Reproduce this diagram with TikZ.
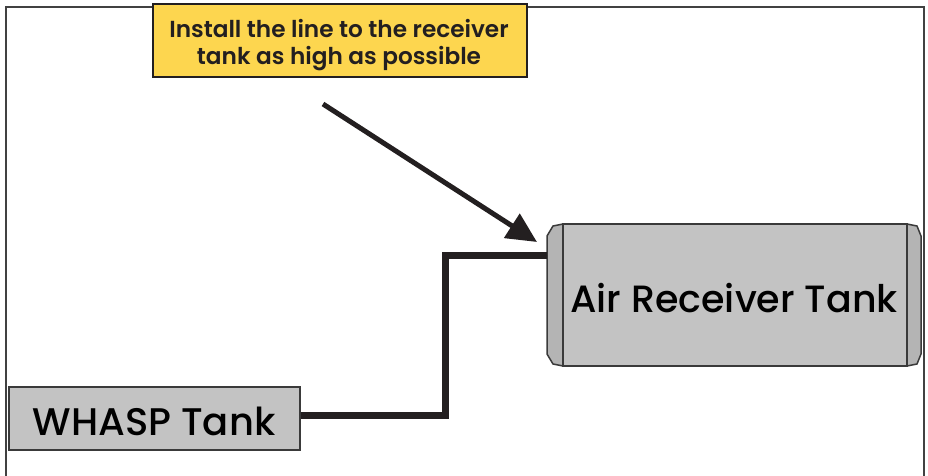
\documentclass[tikz,border=0pt]{standalone}
\usepackage{fontspec}
\setmainfont{Poppins}
\newfontfamily\notefont{Poppins SemiBold}
\newfontfamily\tankfont{Poppins Medium}
\usetikzlibrary{arrows.meta}
\definecolor{callout}{HTML}{FDD64F}
\definecolor{tankfill}{HTML}{C3C3C3}
\definecolor{capfill}{HTML}{B4B4B4}
\definecolor{edge}{HTML}{3A3A3A}
\definecolor{ink}{HTML}{231F20}
\begin{document}
\begin{tikzpicture}[x=1pt,y=-1pt,
  tankbox/.style={draw=edge,line width=1.5pt,fill=tankfill,inner sep=0pt,text=black},
  tanklabel/.style={font=\tankfont\fontsize{38}{40}\selectfont,text=black,inner sep=0pt,anchor=base},
  notebox/.style={draw=ink,line width=2pt,fill=callout,inner sep=0pt},
  notetext/.style={font=\notefont\fontsize{23.2}{28}\selectfont,text=ink,inner sep=0pt,anchor=base},
  pipe/.style={line width=7pt,ink},
  pointer/.style={line width=5pt,ink,-{Triangle[length=30pt,width=28pt]}},
  frame/.style={draw=edge!90!gray,line width=2pt}]
\useasboundingbox (0,0) rectangle (928,476);
\draw[frame] (6,478) -- (6,7) -- (924,7) -- (924,478);
% air receiver tank end caps
\draw[tankbox,fill=capfill] (563,224) -- (553,226) -- (547,236) -- (547,354) -- (553,364) -- (563,366) -- cycle;
\draw[tankbox,fill=capfill] (907,224) -- (917,226) -- (921,236) -- (921,354) -- (917,364) -- (907,366) -- cycle;
\node[tankbox,minimum width=344pt,minimum height=142pt] (air) at (735,295) {};
\node[tanklabel] (airlabel) at (734,312) {Air Receiver Tank};
\node[tankbox,minimum width=291pt,minimum height=63pt] (whasp) at (154.5,418.5) {};
\node[tanklabel,font=\tankfont\fontsize{38.5}{40}\selectfont] (whasplabel) at (154,435) {WHASP Tank};
\node[notebox,minimum width=374pt,minimum height=73pt] (note) at (339.5,41) {};
\node[notetext] (noteline1) at (339,37.5) {Install the line to the receiver};
\node[notetext] (noteline2) at (339,65) {tank as high as possible};
\coordinate (bend1) at (445,415.5);
\coordinate (bend2) at (445,255);
\coordinate (inlet) at (547,255);
\draw[pipe] (whasp.east |- bend1) -- (bend1) -- (bend2) -- (inlet);
\coordinate (tail) at (323,104);
\coordinate (tip) at (537,242);
\draw[pointer] (tail) -- (tip);
\end{tikzpicture}
\end{document}
